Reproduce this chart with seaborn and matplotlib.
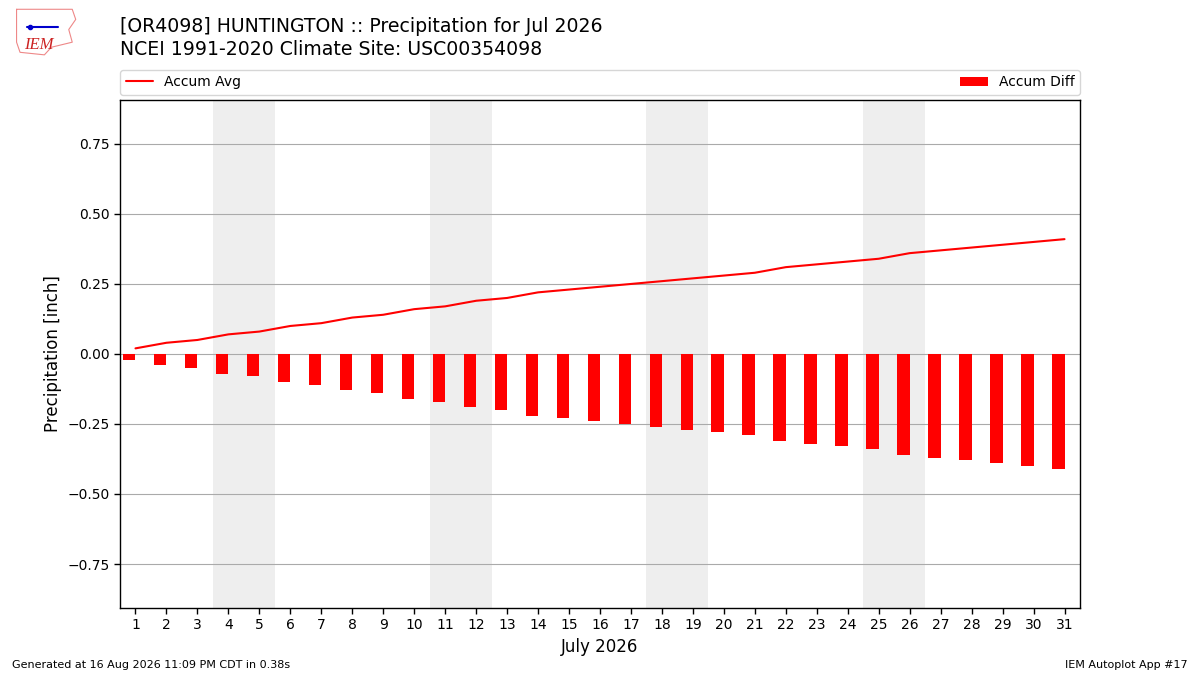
import matplotlib
matplotlib.use("Agg")
import matplotlib.pyplot as plt
import numpy as np
import pandas as pd
import seaborn as sns

# data
days = list(range(1, 32))
accum_avg = [0.02, 0.04, 0.05, 0.07, 0.08, 0.10, 0.11, 0.13, 0.14, 0.16,
             0.17, 0.19, 0.20, 0.22, 0.23, 0.24, 0.25, 0.26, 0.27, 0.28,
             0.29, 0.31, 0.32, 0.33, 0.34, 0.36, 0.37, 0.38, 0.39, 0.40, 0.41]
accum_diff = [-v for v in accum_avg]   # no precip observed
weekends = [(4, 5), (11, 12), (18, 19), (25, 26)]

df = pd.DataFrame({"day": days, "avg": accum_avg, "diff": accum_diff})
df["bar_x"] = df["day"] - 0.2

sns.set_style("white")
plt.rcParams['font.family'] = ['DejaVu Sans']
plt.rcParams['text.color'] = 'black'
plt.rcParams['axes.labelcolor'] = 'black'
plt.rcParams['xtick.color'] = 'black'
plt.rcParams['ytick.color'] = 'black'

fig = plt.figure(figsize=(12, 6.75), dpi=100)
ax = fig.add_axes([0.1, 0.0993, 0.8, 0.7526])

for a, b in weekends:
    ax.axvspan(a - 0.5, b + 0.5, color="#eeeeee", zorder=0, lw=0)

sns.barplot(data=df, x="bar_x", y="diff", native_scale=True, width=0.4,
            color="red", saturation=1, linewidth=0, ax=ax, zorder=2,
            label="Accum Diff")
sns.lineplot(data=df, x="day", y="avg", color="red", lw=1.5, ax=ax,
             zorder=3, label="Accum Avg")

ax.set_xlim(0.5, 31.5)
ax.set_ylim(-0.907, 0.907)
ax.set_xticks(days)
ax.set_xticklabels([str(d) for d in days], fontsize=10)
ax.set_yticks([-0.75, -0.5, -0.25, 0, 0.25, 0.5, 0.75])
ax.set_yticklabels(["\u22120.75", "\u22120.50", "\u22120.25", "0.00", "0.25", "0.50", "0.75"], fontsize=10)
ax.tick_params(axis="both", which="both", direction="out", length=4, width=1,
               bottom=True, left=True, color="black")
ax.yaxis.grid(True, color="#aaaaaa", lw=0.8, zorder=1)
ax.set_axisbelow(True)
for s in ax.spines.values():
    s.set_color("black")
    s.set_linewidth(1)
ax.set_xlabel("July 2026", fontsize=12)
ax.set_ylabel("Precipitation [inch]", fontsize=12)

h, l = ax.get_legend_handles_labels()
order = [l.index("Accum Avg"), l.index("Accum Diff")]
ax.legend([h[i] for i in order], [l[i] for i in order],
          loc="lower left", bbox_to_anchor=(0, 1.01, 1, 0.05), mode="expand",
          ncol=2, fontsize=10, frameon=True, borderaxespad=0)

fig.text(0.1, 0.960, "[OR4098] HUNTINGTON :: Precipitation for Jul 2026",
         fontsize=13.6, va="center", ha="left")
fig.text(0.1, 0.927, "NCEI 1991-2020 Climate Site: USC00354098",
         fontsize=13.6, va="center", ha="left")
fig.text(0.01, 0.008, "Generated at 16 Aug 2026 11:09 PM CDT in 0.38s",
         fontsize=8, ha="left", va="bottom")
fig.text(0.99, 0.008, "IEM Autoplot App #17", fontsize=8, ha="right", va="bottom")

# simple stand-in for the IEM logo
logo = fig.add_axes([0.008, 0.915, 0.058, 0.075])
logo.plot([0.1, 0.9, 0.95, 0.85, 0.9, 0.6, 0.5, 0.15, 0.1, 0.1],
          [0.95, 0.95, 0.75, 0.55, 0.3, 0.2, 0.05, 0.1, 0.3, 0.95],
          color="#e88", lw=0.8)
logo.plot([0.25, 0.7], [0.6, 0.6], color="#0000cc", lw=1.5)
logo.plot([0.3], [0.6], "o", color="#0000cc", ms=3)
logo.text(0.42, 0.25, "IEM", fontsize=12, color="#cc2222", style="italic",
          family="Liberation Serif", ha="center", va="center")
logo.set_xlim(0, 1)
logo.set_ylim(0, 1)
logo.axis("off")

fig.savefig("out.png", dpi=100)
